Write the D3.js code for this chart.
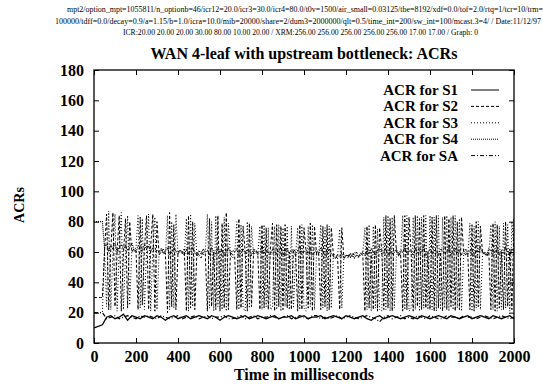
<!DOCTYPE html>
<html><head><meta charset="utf-8">
<script src="https://cdn.jsdelivr.net/npm/d3@7"></script>
<style>body{margin:0;background:#fff}svg{display:block}</style>
</head><body>
<svg id="c" width="543" height="388"></svg>
<script>
const headerLines = [
  "mpt2/option_mpt=1055811/n_optionb=46/icr12=20.0/icr3=30.0/icr4=80.0/t0v=1500/air_small=0.03125/tbe=8192/xdf=0.0/tof=2.0/rtq=1/tcr=10/trm=",
  "100000/tdff=0.0/decay=0.9/a=1.15/b=1.0/icra=10.0/mib=20000/share=2/dum3=2000000/qlt=0.5/time_int=200/sw_int=100/mcast.3=4/ / Date:11/12/97",
  "ICR:20.00 20.00 20.00 30.00 80.00 10.00 20.00 / XRM:256.00 256.00 256.00 256.00 256.00 17.00 17.00 / Graph: 0"
];
const title = "WAN 4-leaf with upstream bottleneck: ACRs";
const xLabel = "Time in milliseconds";
const yLabel = "ACRs";
const xTicks = [0,200,400,600,800,1000,1200,1400,1600,1800,2000];
const yTicks = [0,20,40,60,80,100,120,140,160,180];
const seriesNames = ["ACR for S1","ACR for S2","ACR for S3","ACR for S4","ACR for SA"];

// sampled every 20 ms
const s1 = [10,11,12,
17,18,16,17,19,15,18,17,16,18,
17,16,18,17,15,17,18,16,17,18,
16,17,18,17,16,18,17,15,17,18,
17,16,17,18,16,17,18,17,16,17,
18,16,17,17,18,16,17,18,16,17,
17,18,16,17,18,17,16,18,17,16,
17,18,16,15,17,18,16,17,18,17,
16,17,18,17,16,18,17,16,17,18,
17,16,18,17,16,17,18,16,17,18,
17,16,18,17,16,17,18,16];
const sA = [20,20,20,
16,17,18,16,17,18,17,16,18,17,
18,17,16,18,17,16,17,18,16,17,
17,18,16,17,18,16,17,17,18,16,
16,17,18,16,17,18,16,17,17,18,
17,16,17,18,16,17,18,17,16,18,
18,16,17,16,17,18,16,17,18,17,
16,17,18,17,16,14,17,18,16,17,
18,16,17,16,18,17,16,18,17,16,
16,18,17,17,16,18,17,17,16,17,
18,17,16,17,18,17,16,17];
// sampled every 10 ms
const s2 = [30,30,30,30,30,
60,85,22,62,86,24,60,84,21,58,82,23,80,60,
62,61,
22,83,25,61,84,22,64,85,21,80,58,
60,62,59,
20,86,24,78,22,60,
61,59,62,
21,84,23,80,22,60,
58,56,60,59,
21,82,24,60,22,84,21,79,23,86,22,60,
58,57,
22,82,23,77,60,21,79,24,60,
61,59,
22,78,23,76,22,62,79,21,78,24,77,22,78,23,60,
22,62,60,
21,78,22,76,60,23,79,21,77,58,
59,
22,77,24,78,22,76,58,
57,56,
22,76,56,
57,58,56,59,58,60,57,59,58,
21,77,23,60,22,78,21,76,62,22,84,23,82,21,84,60,
58,59,
21,84,22,83,60,21,84,24,82,22,84,23,60,
22,83,21,84,23,60,21,84,22,82,24,84,21,80,22,83,60,
58,59,
22,78,21,80,24,77,60,
59,57,60,
22,79,21,78,23,60,22,80,24,62,22,82];
const s3 = [20,20,20,20,20,
62,24,87,22,60,85,21,63,86,22,59,84,25,61,
60,63,
84,23,82,22,60,85,21,62,83,22,60,
61,60,58,
84,22,80,23,85,59,
60,61,58,
82,21,85,24,79,58,
57,59,58,60,
85,23,80,21,84,24,62,22,83,21,79,58,
56,59,
80,22,78,23,21,80,23,77,58,
60,58,
77,22,78,24,76,22,23,77,22,78,21,76,24,77,22,
77,23,58,
76,22,78,23,21,77,24,78,22,60,
58,
78,23,76,21,77,23,59,
58,57,
75,23,57,
58,56,59,57,60,58,56,58,59,
76,22,78,21,77,23,75,22,21,83,22,84,21,83,23,58,
60,57,
84,22,84,21,23,83,22,84,21,83,23,84,22,
84,22,83,21,84,22,83,23,84,21,83,22,84,23,82,21,58,
60,57,
79,21,77,23,80,22,58,
60,58,59,
78,22,80,21,77,22,79,23,78,21,80,60];
const s4 = [80,80,80,80,80,
63,65,61,64,62,66,60,63,65,62,64,61,63,66,62,60,64,63,61,65,62,64,60,63,62,61,
60,62,59,61,63,58,60,62,61,59,
61,60,58,62,59,61,63,60,58,61,
59,62,60,61,58,63,60,59,62,60,
61,58,60,63,59,61,60,62,58,60,
62,59,61,60,58,62,61,59,60,63,
59,61,60,58,62,60,59,61,63,58,
60,62,59,61,60,58,61,63,59,60,
61,59,62,58,60,61,59,63,60,58,
60,62,59,57,56,58,57,59,56,58,
57,59,58,56,58,57,59,60,58,61,
59,62,60,58,61,63,59,60,62,58,
61,59,60,62,58,61,60,63,59,61,
60,58,62,59,61,60,63,58,60,62,
59,61,60,58,62,61,59,60,63,58,
60,62,59,61,58,60,62,59,61,60,
58,61,60,63,59,60,58,62,61,59,
60,62,58,61,59,63,60,58,62,61];

const series = [
  {name: seriesNames[0], values: s1, step: 20, dash: null, w: 1.3},
  {name: seriesNames[1], values: s2, step: 10, dash: "3,2", w: 1},
  {name: seriesNames[2], values: s3, step: 10, dash: "1,2", w: 1},
  {name: seriesNames[3], values: s4, step: 10, dash: "1,1", w: 1.2},
  {name: seriesNames[4], values: sA, step: 20, dash: "4,2,1,2", w: 1.2}
];

const svg = d3.select("#c");
const L = 94, R = 514, T = 70, B = 343;
const x = d3.scaleLinear().domain([0, 2000]).range([L, R]);
const y = d3.scaleLinear().domain([0, 180]).range([B, T]);
const serif = "Liberation Serif, Times New Roman, Times, serif";

// header
const hdr = [[67, 12, 476], [55, 23.5, 486], [123, 35, 355]];
headerLines.forEach((t, i) => {
  svg.append("text").attr("x", hdr[i][0]).attr("y", hdr[i][1])
    .style("font-family", serif).style("font-size", "7.5px")
    .attr("textLength", hdr[i][2]).attr("lengthAdjust", "spacingAndGlyphs")
    .text(t);
});
svg.append("text").attr("x", (L + R) / 2).attr("y", 59).attr("text-anchor", "middle")
  .style("font-family", serif).style("font-size", "16px").style("font-weight", "bold").text(title);

// lines
svg.append("clipPath").attr("id", "pc").append("rect")
  .attr("x", L).attr("y", T).attr("width", R - L).attr("height", B - T);
const g = svg.append("g").attr("clip-path", "url(#pc)");
series.forEach(s => {
  const line = d3.line().x((d, i) => x(i * s.step)).y(d => y(d));
  g.append("path").datum(s.values).attr("d", line)
    .attr("fill", "none").attr("stroke", "#000").attr("stroke-width", s.w)
    .attr("stroke-dasharray", s.dash);
});

// axes
function styleAxis(sel, labels) {
  sel.select(".domain").remove();
  sel.selectAll("line").attr("stroke", "#000").attr("stroke-width", 1);
  sel.selectAll("text").style("font-family", serif).style("font-size", "16px")
    .style("font-weight", "bold").attr("fill", "#000");
  if (!labels) sel.selectAll("text").remove();
}
svg.append("g").attr("transform", `translate(0,${B})`)
  .call(d3.axisBottom(x).tickValues(xTicks).tickSize(-5).tickPadding(8).tickFormat(d3.format("d")))
  .call(s => styleAxis(s, true));
svg.append("g").attr("transform", `translate(0,${T})`)
  .call(d3.axisTop(x).tickValues(xTicks).tickSize(-5))
  .call(s => styleAxis(s, false));
svg.append("g").attr("transform", `translate(${L},0)`)
  .call(d3.axisLeft(y).tickValues(yTicks).tickSize(-5).tickPadding(10).tickFormat(d3.format("d")))
  .call(s => styleAxis(s, true));
svg.append("g").attr("transform", `translate(${R},0)`)
  .call(d3.axisRight(y).tickValues(yTicks).tickSize(-5))
  .call(s => styleAxis(s, false));
svg.append("rect").attr("x", L).attr("y", T).attr("width", R - L).attr("height", B - T)
  .attr("fill", "none").attr("stroke", "#000").attr("stroke-width", 1.3);

// axis titles
svg.append("text").attr("x", (L + R) / 2).attr("y", 380).attr("text-anchor", "middle")
  .style("font-family", serif).style("font-size", "16px").style("font-weight", "bold").text(xLabel);
svg.append("text").attr("transform", "translate(24,205) rotate(-90)").attr("text-anchor", "middle")
  .style("font-family", serif).style("font-size", "14px").style("font-weight", "bold").text(yLabel);

// legend
series.forEach((s, i) => {
  const yy = 90 + i * 16.4;
  svg.append("text").attr("x", 458).attr("y", yy + 5).attr("text-anchor", "end")
    .style("font-family", serif).style("font-size", "15px").style("font-weight", "bold").text(s.name);
  svg.append("line").attr("x1", 471).attr("x2", 499).attr("y1", yy).attr("y2", yy)
    .attr("stroke", "#000").attr("stroke-width", 1).attr("stroke-dasharray", s.dash);
});
</script>
</body></html>
